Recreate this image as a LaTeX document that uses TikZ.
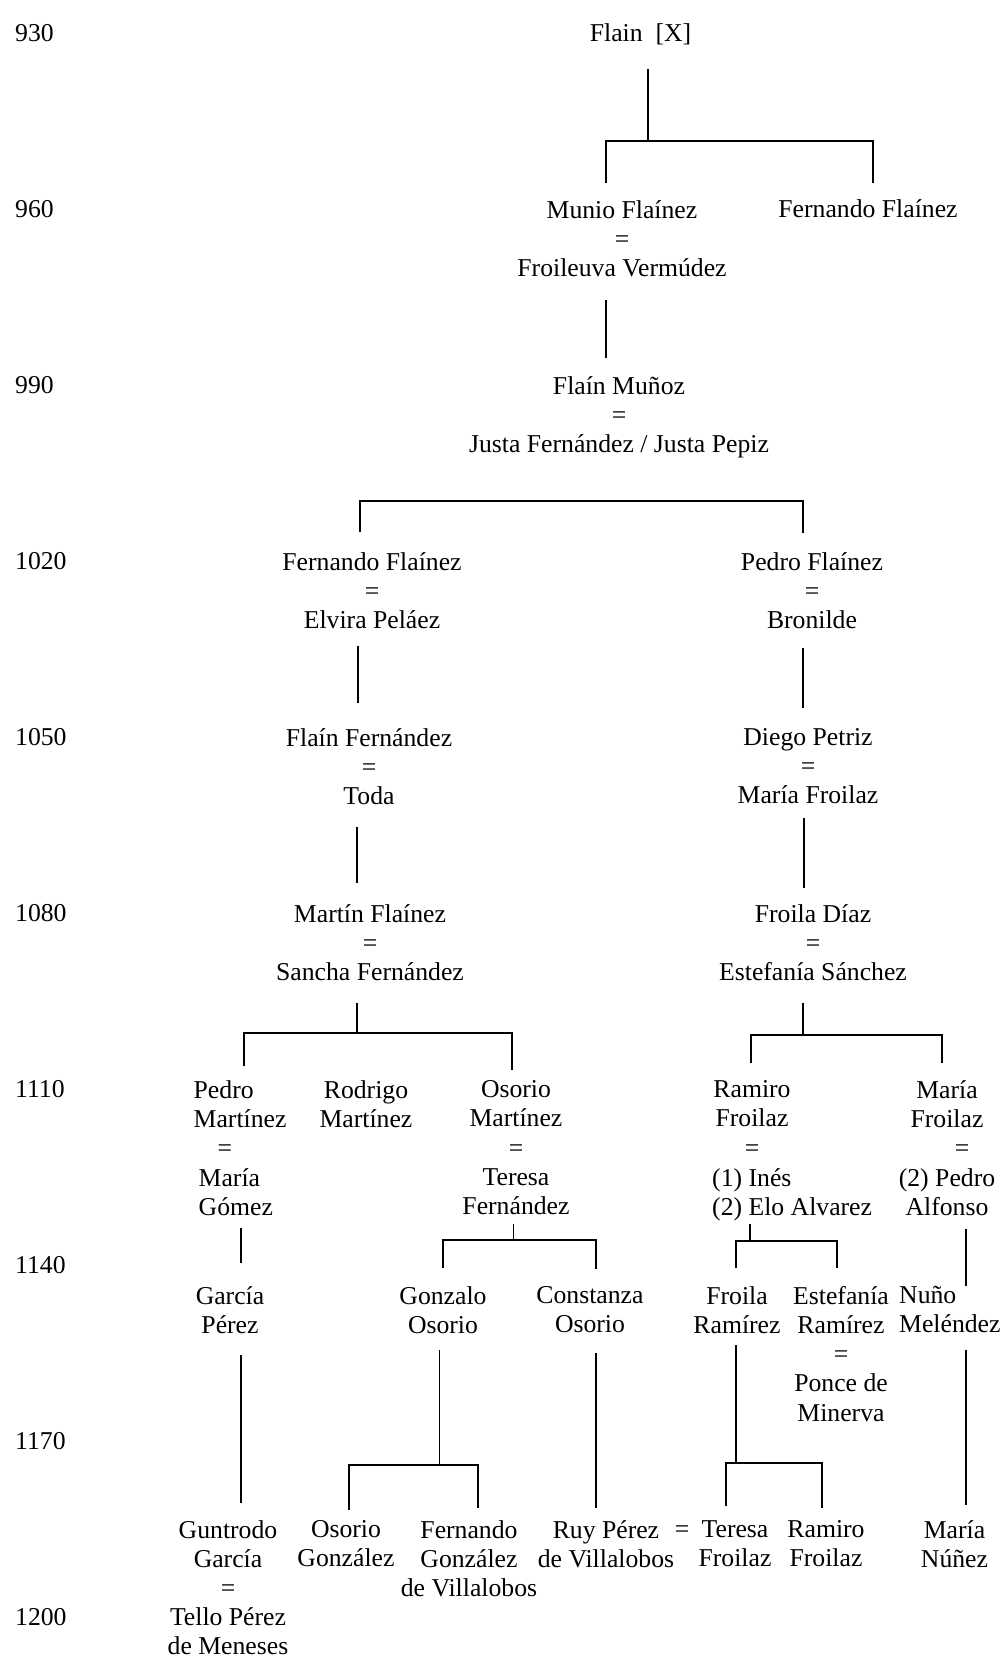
\documentclass[tikz,border=0pt]{standalone}
\usepackage{fontspec}
\setmainfont{Liberation Serif}
\newcommand{\namefont}{\fontsize{25.7}{29.2}\selectfont}

\begin{document}
\begin{tikzpicture} [
    x=1pt, y=-1pt,
    person/.style={
        font=\namefont,
        align=center, inner sep=0pt,
        anchor=north, yshift=17pt
    },
    single/.style={
        font=\namefont,
        inner sep=0pt, anchor=base
    },
    yr/.style={
        font=\namefont,
        inner sep=0pt, anchor=base west
    },
    kin/.style={
        line width=1.8pt
    }
]

\path [fill=white] (0,0) rectangle (1003,1665);
\useasboundingbox (0,0) rectangle (1003,1665);

% years
\foreach \yr [count=\i from 0] in {930,960,990,1020,1050,1080,1110,1140,1170,1200}
    \node [yr] (y\yr) at (15, {41+176.1*\i}) {\yr};

% people
\node [single] (flain)     at (640.5, 41)  {Flain~~[X]};
\node [person] (munio)     at (622, 217)   {Munio Flaínez\\=\\Froileuva Vermúdez};
\node [single] (fernando1) at (868, 217)   {Fernando Flaínez};
\node [person] (flainM)    at (619, 393)   {Flaín Muñoz\\=\\Justa Fernández / Justa Pepiz};
\node [person] (fernando2) at (372, 569)   {Fernando Flaínez\\=\\Elvira Peláez};
\node [person] (pedroF)    at (812, 569)   {Pedro Flaínez\\=\\Bronilde};
\node [person] (flainF)    at (369, 745)   {Flaín Fernández\\=\\Toda};
\node [person] (diego)     at (808, 745)   {Diego Petriz\\=\\María Froilaz};
\node [person] (martin)    at (370, 921.5) {Martín Flaínez\\=\\Sancha Fernández};
\node [person] (froila)    at (813, 921.5) {Froila Díaz\\=\\Estefanía Sánchez};

\node [person,align=left,anchor=north west] (pedroM) at (193.5, 1097.5)
    {Pedro\\Martínez\\\hspace*{24pt}=\\\hspace*{5pt}María\\\hspace*{5pt}Gómez};
\node [person] (rodrigo)   at (366, 1097.5) {Rodrigo\\Martínez};
\node [person] (osorioM)   at (516, 1097.5) {Osorio\\Martínez\\=\\Teresa\\Fernández};
\node [person] (ramiro)    at (752, 1097.5) {Ramiro\\Froilaz\\=};
\node [person,align=left,anchor=north west] (elo) at (712, 1185.1)
    {(1) Inés\\(2) Elo Alvarez};
\node [person] (mariaF)    at (947, 1097.5) {María\\Froilaz\\\hspace*{30pt}=\\(2) Pedro\\Alfonso};

\node [person] (garcia)    at (230, 1303)  {García\\Pérez};
\node [person] (gonzalo)   at (443, 1303)  {Gonzalo\\Osorio};
\node [person] (constanza) at (590, 1303)  {Constanza\\Osorio};
\node [person] (froilaR)   at (737, 1303)  {Froila\\Ramírez};
\node [person] (estefania) at (841, 1303)  {Estefanía\\Ramírez\\=\\Ponce de\\Minerva};
\node [person,align=left,anchor=north west] (nuno) at (899, 1303) {Nuño\\Meléndez};

\node [person] (guntrodo)  at (228, 1537)  {Guntrodo\\García\\=\\Tello Pérez\\de Meneses};
\node [person] (osorioG)   at (346, 1537)  {Osorio\\González};
\node [person] (fernandoG) at (469, 1537)  {Fernando\\González\\de Villalobos};
\node [person] (ruy)       at (606, 1537)  {Ruy Pérez\\de Villalobos};
\node [single] (ruyEq)     at (682, 1537)  {=};
\node [person] (teresa)    at (735, 1537)  {Teresa\\Froilaz};
\node [person] (ramiroF)   at (826, 1537)  {Ramiro\\Froilaz};
\node [person] (mariaN)    at (954.5, 1537) {María\\Núñez};

% lines of descent
\coordinate (flainS)     at (648, 69);
\coordinate (flainJ)     at (648, 141);
\coordinate (munioT)     at (606, 183);
\coordinate (fernando1T) at (873, 183);
\draw [kin] (flainS) -- (flainJ);
\draw [kin] (munioT) |- (flainJ) -| (fernando1T);

\coordinate (munioS)  at (606, 300);
\coordinate (flainMT) at (606, 358);
\draw [kin] (munioS) -- (flainMT);

\coordinate (flainMJ)    at (581, 501);
\coordinate (fernando2T) at (360, 532);
\coordinate (pedroFT)    at (803, 533);
\draw [kin] (fernando2T) |- (flainMJ) -| (pedroFT);

\coordinate (fernando2S) at (358, 646);
\coordinate (flainFT)    at (358, 703);
\draw [kin] (fernando2S) -- (flainFT);
\coordinate (pedroFS) at (803, 648);
\coordinate (diegoT)  at (803, 708);
\draw [kin] (pedroFS) -- (diegoT);

\coordinate (flainFS) at (357, 827);
\coordinate (martinT) at (357, 883);
\draw [kin] (flainFS) -- (martinT);
\coordinate (diegoS)  at (804, 818);
\coordinate (froilaT) at (804, 888);
\draw [kin] (diegoS) -- (froilaT);

\coordinate (martinS)  at (356.7, 1003);
\coordinate (martinJ)  at (356.7, 1033);
\coordinate (pedroMT)  at (243.6, 1066);
\coordinate (osorioMT) at (511.8, 1070);
\draw [kin] (martinS) -- (martinJ);
\draw [kin] (pedroMT) |- (martinJ) -| (osorioMT);

\coordinate (froilaS)  at (803, 1003);
\coordinate (froilaJ)  at (803, 1035);
\coordinate (ramiroT)  at (751, 1063);
\coordinate (mariaFT)  at (941.6, 1063);
\draw [kin] (froilaS) -- (froilaJ);
\draw [kin] (ramiroT) |- (froilaJ) -| (mariaFT);

\coordinate (pedroMS) at (241, 1228);
\coordinate (garciaT) at (241, 1263);
\draw [kin] (pedroMS) -- (garciaT);

\coordinate (osorioMS)   at (513.4, 1224);
\coordinate (osorioMJ)   at (513.4, 1240);
\coordinate (gonzaloT)   at (442.7, 1268);
\coordinate (constanzaT) at (596, 1269);
\draw [kin] (osorioMS) -- (osorioMJ);
\draw [kin] (gonzaloT) |- (osorioMJ) -| (constanzaT);

\coordinate (eloS)       at (750, 1224);
\coordinate (eloJ)       at (750, 1240.7);
\coordinate (froilaRT)   at (736, 1268);
\coordinate (estefaniaT) at (836.6, 1268);
\draw [kin] (eloS) -- (eloJ);
\draw [kin] (froilaRT) |- (eloJ) -| (estefaniaT);

\coordinate (mariaFS) at (966, 1229);
\coordinate (nunoT)   at (966, 1286);
\draw [kin] (mariaFS) -- (nunoT);

\coordinate (garciaS)   at (240.7, 1355);
\coordinate (guntrodoT) at (240.7, 1503);
\draw [kin] (garciaS) -- (guntrodoT);

\coordinate (gonzaloS)   at (439.4, 1350);
\coordinate (gonzaloJ)   at (439.4, 1465);
\coordinate (osorioGT)   at (348.6, 1510);
\coordinate (fernandoGT) at (478, 1508);
\draw [kin] (gonzaloS) -- (gonzaloJ);
\draw [kin] (osorioGT) |- (gonzaloJ) -| (fernandoGT);

\coordinate (constanzaS) at (596, 1353);
\coordinate (ruyT)       at (596, 1508);
\draw [kin] (constanzaS) -- (ruyT);

\coordinate (froilaRS) at (736, 1345);
\coordinate (froilaRJ) at (736, 1462.7);
\coordinate (teresaT)  at (725.6, 1505.7);
\coordinate (ramiroFT) at (822, 1508);
\draw [kin] (froilaRS) -- (froilaRJ);
\draw [kin] (teresaT) |- (froilaRJ) -| (ramiroFT);

\coordinate (nunoS)   at (966, 1350);
\coordinate (mariaNT) at (966, 1505);
\draw [kin] (nunoS) -- (mariaNT);

\end{tikzpicture}
\end{document}
